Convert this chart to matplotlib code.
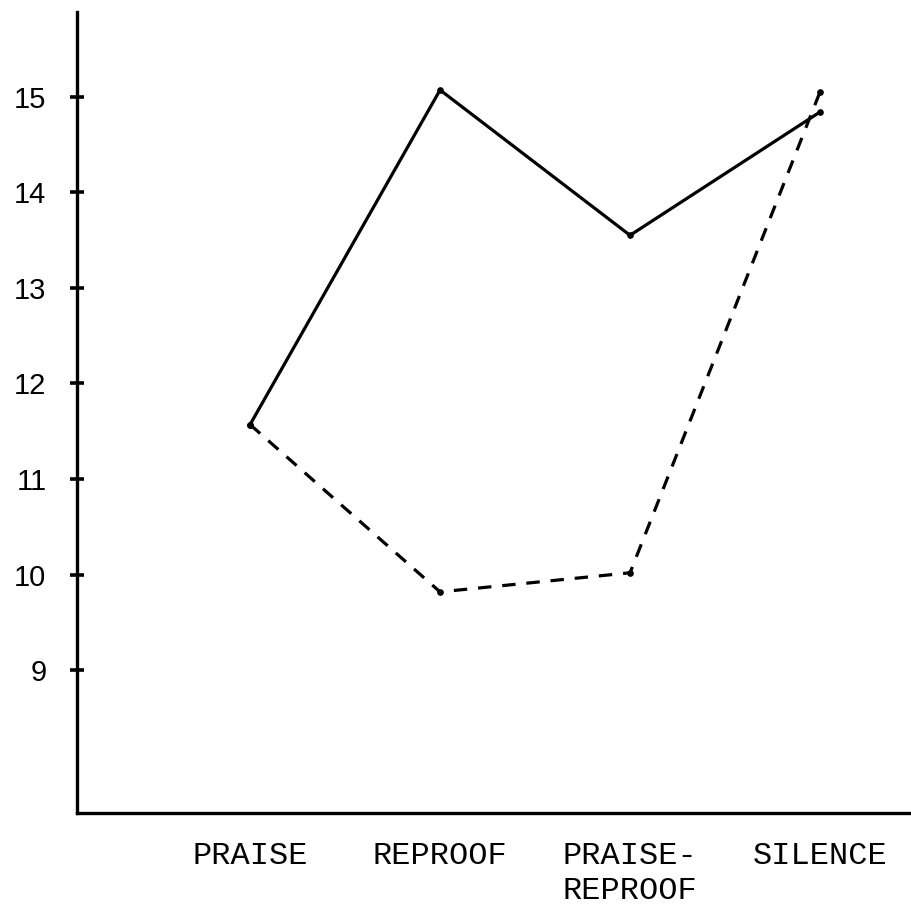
"""
Line chart: scores under four feedback conditions (typewritten style).
"""

import matplotlib
matplotlib.use("Agg")
import matplotlib.pyplot as plt

# ── Data ──────────────────────────────────────────────────────────
conditions   = ["PRAISE", "REPROOF", "PRAISE-\nREPROOF", "SILENCE"]
solid_values = [11.57, 15.07, 13.55, 14.84]
dash_values  = [11.57, 9.82, 10.02, 15.05]
y_ticks      = [9, 10, 11, 12, 13, 14, 15]

# ── Figure ────────────────────────────────────────────────────────
fig = plt.figure(figsize=(9.12, 9.08), dpi=100)
ax  = fig.add_axes([0.0844, 0.1046, 0.9156, 0.8822])

x = list(range(len(conditions)))

ax.plot(x, solid_values, color="black", lw=2.3, solid_capstyle="round",
        marker="o", ms=3.8, zorder=3)
ax.plot(x, dash_values, color="black", lw=2.3, dashes=(4.2, 3.4),
        marker="o", ms=3.8, zorder=3)

ax.set_xlim(-0.911, 3.484)
ax.set_ylim(7.507, 15.886)

for side in ("top", "right"):
    ax.spines[side].set_visible(False)
for side in ("left", "bottom"):
    ax.spines[side].set_linewidth(2.4)
    ax.spines[side].set_color("black")

ax.set_yticks(y_ticks)
ax.set_yticklabels([str(t) for t in y_ticks],
                   fontfamily="Liberation Sans", fontsize=21)
ax.tick_params(axis="y", direction="inout", length=10, width=2.6,
               pad=17, colors="black")

ax.set_xticks(x)
ax.set_xticklabels(conditions, fontfamily="Liberation Mono", fontsize=23,
                   multialignment="left", linespacing=1.22)
ax.tick_params(axis="x", length=0, pad=20, colors="black")

fig.savefig("out.png", dpi=100, facecolor="white")
